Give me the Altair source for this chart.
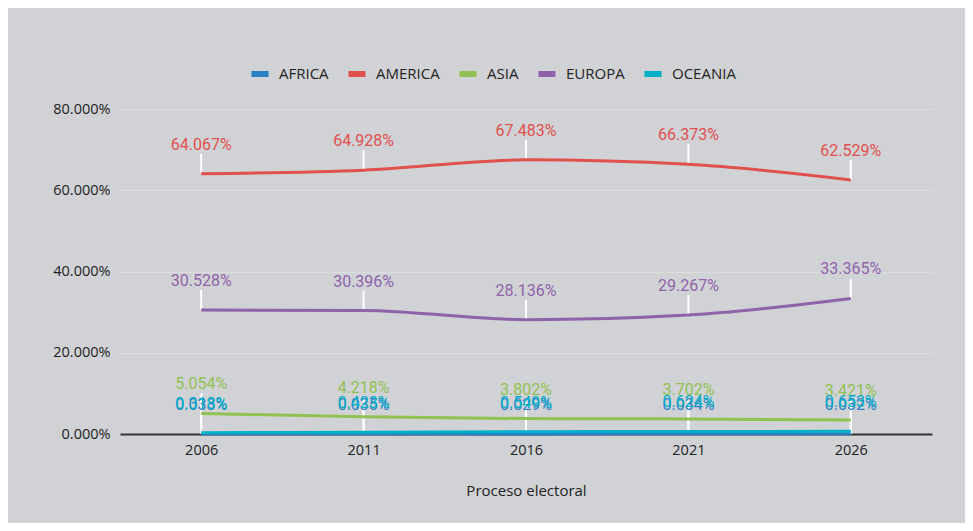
import altair as alt
import pandas as pd

years = ["2006", "2011", "2016", "2021", "2026"]
series_names = ["AFRICA", "AMERICA", "ASIA", "EUROPA", "OCEANIA"]
africa = [0.033, 0.035, 0.029, 0.034, 0.032]
america = [64.067, 64.928, 67.483, 66.373, 62.529]
asia = [5.054, 4.218, 3.802, 3.702, 3.421]
europa = [30.528, 30.396, 28.136, 29.267, 33.365]
oceania = [0.318, 0.423, 0.549, 0.624, 0.653]
colors = ["#2a80c4", "#e0504d", "#91c150", "#8e63a9", "#00b0c9"]
y_ticks = [0, 0.2, 0.4, 0.6, 0.8]

rows = []
for name, vals in zip(series_names, [africa, america, asia, europa, oceania]):
    for yr, v in zip(years, vals):
        rows.append({"year": yr, "series": name, "value": v / 100})
df = pd.DataFrame(rows)

base = alt.Chart(df).encode(
    x=alt.X(
        "year:O",
        scale=alt.Scale(type="point", padding=0.5),
        axis=alt.Axis(
            title="Proceso electoral",
            labelAngle=0,
            ticks=False,
            domainColor="#333333",
            domainWidth=2,
            labelPadding=9,
            labelFontSize=14.5,
            labelFont="Open Sans",
            labelColor="#222222",
            titleFont="Open Sans",
            titleFontSize=15,
            titleFontWeight="normal",
            titleColor="#222222",
            titlePadding=27,
            grid=False,
        ),
    ),
    y=alt.Y(
        "value:Q",
        scale=alt.Scale(domain=[0, 0.8]),
        axis=alt.Axis(
            title=None,
            format=".3%",
            values=y_ticks,
            ticks=False,
            domain=False,
            labelPadding=10,
            labelFontSize=14.5,
            labelFont="Open Sans",
            labelColor="#222222",
            gridColor="#dcdde0",
            gridWidth=1,
        ),
    ),
    color=alt.Color(
        "series:N",
        scale=alt.Scale(domain=series_names, range=colors),
        legend=alt.Legend(
            title=None,
            orient="none",
            direction="horizontal",
            legendX=128,
            legendY=-47,
            symbolType="stroke",
            symbolStrokeWidth=6,
            symbolSize=290,
            labelFont="Open Sans",
            labelFontSize=15,
            labelColor="#222222",
            labelOffset=7,
            columnPadding=7,
        ),
    ),
)

rules = base.mark_rule(strokeWidth=2, y2Offset=-20).encode(
    y2="value:Q", color=alt.value("white")
)
lines = base.mark_line(interpolate="monotone", strokeWidth=3)
texts = base.mark_text(dy=-29, fontSize=16, font="Roboto", baseline="middle").encode(
    text=alt.Text("value:Q", format=".3%")
)

chart = (
    alt.layer(rules, lines, texts)
    .properties(
        width=812,
        height=325,
        autosize="none",
        padding={"left": 112, "top": 101, "right": 33, "bottom": 89},
        background="#d1d2d6",
    )
    .configure_view(stroke=None)
)

chart.save("out.html", embed_options={"renderer": "svg", "actions": False})
